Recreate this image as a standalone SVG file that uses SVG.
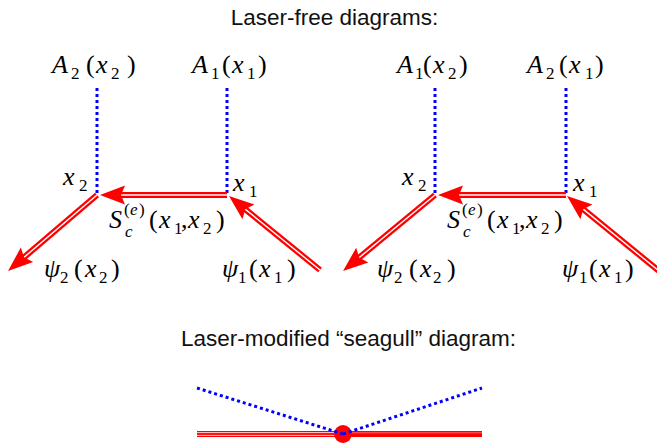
<svg xmlns="http://www.w3.org/2000/svg" width="657" height="447" viewBox="0 0 657 447">
<rect width="657" height="447" fill="#ffffff"/>
<text x="334.5" y="25" font-family="Liberation Sans" font-size="22.5" fill="#111" text-anchor="middle">Laser-free diagrams:</text>
<text x="348.5" y="346" font-family="Liberation Sans" font-size="22.5" fill="#111" text-anchor="middle">Laser-modified “seagull” diagram:</text>
<g id="connectors" fill="none">
  <g stroke="#0000ff" stroke-width="3" stroke-dasharray="3 3">
    <line x1="97" y1="88" x2="97" y2="194"/>
    <line x1="227" y1="88" x2="227" y2="194"/>
    <line x1="435" y1="88" x2="435" y2="194"/>
    <line x1="566" y1="88" x2="566" y2="194"/>
  </g>
  <g stroke="#ff0000" stroke-width="6">
    <path d="M227,195 L116,195"/>
    <path d="M97,195 L20.2,260.6"/>
    <path d="M320,270 L241.4,206.1"/>
    <path d="M566,195 L454,195"/>
    <path d="M435,195 L355.3,260.8"/>
    <path d="M659,271 L579.5,206.1"/>
  </g>
  <g stroke="#ffffff" stroke-width="1.4">
    <path d="M227,195 L116,195"/>
    <path d="M97,195 L20.2,260.6"/>
    <path d="M320,270 L241.4,206.1"/>
    <path d="M566,195 L454,195"/>
    <path d="M435,195 L355.3,260.8"/>
    <path d="M659,271 L579.5,206.1"/>
  </g>
  <g fill="#ff0000" stroke="none">
    <polygon points="100,195 125,204.5 121,195 125,185.5"/>
    <polygon points="8,271 33.18,261.99 23.97,257.36 20.84,247.54"/>
    <polygon points="229,196 242.42,219.14 245.3,209.24 254.4,204.39"/>
    <polygon points="438,195 463,204.5 459,195 463,185.5"/>
    <polygon points="343,271 368.32,262.39 359.18,257.61 356.21,247.75"/>
    <polygon points="567,196 580.37,219.16 583.27,209.27 592.38,204.44"/>
  </g>
  <line x1="197" y1="434" x2="482" y2="434" stroke="#ff0000" stroke-width="6"/>
  <line x1="197" y1="432.6" x2="343" y2="432.6" stroke="#ffffff" stroke-width="0.9" opacity="0.9"/>
  <line x1="197" y1="435.4" x2="343" y2="435.4" stroke="#ffffff" stroke-width="0.9" opacity="0.9"/>
  <line x1="343" y1="432.8" x2="482" y2="432.8" stroke="#ffffff" stroke-width="0.8" opacity="0.5"/>
</g>
<g id="seagull-vertex">
  <circle cx="343" cy="434" r="9" fill="#ff0000"/>
</g>
<g id="seagull-photons" fill="none" stroke="#0000ff" stroke-width="3" stroke-dasharray="3 3">
  <line x1="197" y1="388" x2="343" y2="434"/>
  <line x1="343" y1="434" x2="482" y2="388"/>
</g>
<g id="L-A2">
  <text x="52" y="73" font-family="serif" font-size="26" font-style="italic">A</text>
  <text x="71" y="79" font-family="serif" font-size="17">2</text>
  <text x="86" y="73" font-family="serif" font-size="26">(</text>
  <text x="96" y="73" font-family="serif" font-size="26" font-style="italic">x</text>
  <text x="111" y="79" font-family="serif" font-size="17">2</text>
  <text x="127" y="73" font-family="serif" font-size="26">)</text>
</g>
<g id="L-A1">
  <text x="192" y="73" font-family="serif" font-size="26" font-style="italic">A</text>
  <text x="211" y="79" font-family="serif" font-size="17">1</text>
  <text x="222" y="73" font-family="serif" font-size="26">(</text>
  <text x="232" y="73" font-family="serif" font-size="26" font-style="italic">x</text>
  <text x="247" y="79" font-family="serif" font-size="17">1</text>
  <text x="258" y="73" font-family="serif" font-size="26">)</text>
</g>
<g id="L-x2">
  <text x="63" y="185" font-family="serif" font-size="26" font-style="italic">x</text>
  <text x="79" y="191" font-family="serif" font-size="17">2</text>
</g>
<g id="L-x1">
  <text x="233" y="191" font-family="serif" font-size="26" font-style="italic">x</text>
  <text x="249" y="197" font-family="serif" font-size="17">1</text>
</g>
<g id="L-S">
  <text x="109" y="228" font-family="serif" font-size="26" font-style="italic">S</text>
  <text x="124" y="215" font-family="serif" font-size="17">(</text>
  <text x="130" y="215" font-family="serif" font-size="17" font-style="italic">e</text>
  <text x="139" y="215" font-family="serif" font-size="17">)</text>
  <text x="125" y="237" font-family="serif" font-size="17" font-style="italic">c</text>
  <text x="149" y="228" font-family="serif" font-size="26">(</text>
  <text x="159" y="228" font-family="serif" font-size="26" font-style="italic">x</text>
  <text x="174" y="234" font-family="serif" font-size="17">1</text>
  <text x="181" y="228" font-family="serif" font-size="26">,</text>
  <text x="188" y="228" font-family="serif" font-size="26" font-style="italic">x</text>
  <text x="203" y="234" font-family="serif" font-size="17">2</text>
  <text x="216" y="228" font-family="serif" font-size="26">)</text>
</g>
<g id="L-psi2">
  <text x="44" y="277" font-family="serif" font-size="26" font-style="italic">ψ</text>
  <text x="60" y="283" font-family="serif" font-size="17">2</text>
  <text x="74" y="277" font-family="serif" font-size="26">(</text>
  <text x="85" y="277" font-family="serif" font-size="26" font-style="italic">x</text>
  <text x="99" y="283" font-family="serif" font-size="17">2</text>
  <text x="111" y="277" font-family="serif" font-size="26">)</text>
</g>
<g id="L-psi1">
  <text x="222" y="277" font-family="serif" font-size="26" font-style="italic">ψ</text>
  <text x="238" y="283" font-family="serif" font-size="17">1</text>
  <text x="249" y="277" font-family="serif" font-size="26">(</text>
  <text x="259" y="277" font-family="serif" font-size="26" font-style="italic">x</text>
  <text x="274" y="283" font-family="serif" font-size="17">1</text>
  <text x="287" y="277" font-family="serif" font-size="26">)</text>
</g>
<g id="R-A1">
  <text x="397" y="73" font-family="serif" font-size="26" font-style="italic">A</text>
  <text x="415" y="79" font-family="serif" font-size="17">1</text>
  <text x="423" y="73" font-family="serif" font-size="26">(</text>
  <text x="433" y="73" font-family="serif" font-size="26" font-style="italic">x</text>
  <text x="448" y="79" font-family="serif" font-size="17">2</text>
  <text x="459" y="73" font-family="serif" font-size="26">)</text>
</g>
<g id="R-A2">
  <text x="527" y="73" font-family="serif" font-size="26" font-style="italic">A</text>
  <text x="546" y="79" font-family="serif" font-size="17">2</text>
  <text x="559" y="73" font-family="serif" font-size="26">(</text>
  <text x="569" y="73" font-family="serif" font-size="26" font-style="italic">x</text>
  <text x="585" y="79" font-family="serif" font-size="17">1</text>
  <text x="595" y="73" font-family="serif" font-size="26">)</text>
</g>
<g id="R-x2">
  <text x="402" y="185" font-family="serif" font-size="26" font-style="italic">x</text>
  <text x="418" y="191" font-family="serif" font-size="17">2</text>
</g>
<g id="R-x1">
  <text x="573" y="191" font-family="serif" font-size="26" font-style="italic">x</text>
  <text x="589" y="197" font-family="serif" font-size="17">1</text>
</g>
<g id="R-S">
  <text x="447" y="228" font-family="serif" font-size="26" font-style="italic">S</text>
  <text x="462" y="215" font-family="serif" font-size="17">(</text>
  <text x="468" y="215" font-family="serif" font-size="17" font-style="italic">e</text>
  <text x="477" y="215" font-family="serif" font-size="17">)</text>
  <text x="463" y="237" font-family="serif" font-size="17" font-style="italic">c</text>
  <text x="487" y="228" font-family="serif" font-size="26">(</text>
  <text x="497" y="228" font-family="serif" font-size="26" font-style="italic">x</text>
  <text x="512" y="234" font-family="serif" font-size="17">1</text>
  <text x="519" y="228" font-family="serif" font-size="26">,</text>
  <text x="526" y="228" font-family="serif" font-size="26" font-style="italic">x</text>
  <text x="541" y="234" font-family="serif" font-size="17">2</text>
  <text x="554" y="228" font-family="serif" font-size="26">)</text>
</g>
<g id="R-psi2">
  <text x="377" y="277" font-family="serif" font-size="26" font-style="italic">ψ</text>
  <text x="394" y="283" font-family="serif" font-size="17">2</text>
  <text x="409" y="277" font-family="serif" font-size="26">(</text>
  <text x="420" y="277" font-family="serif" font-size="26" font-style="italic">x</text>
  <text x="433" y="283" font-family="serif" font-size="17">2</text>
  <text x="447" y="277" font-family="serif" font-size="26">)</text>
</g>
<g id="R-psi1">
  <text x="562" y="277" font-family="serif" font-size="26" font-style="italic">ψ</text>
  <text x="579" y="283" font-family="serif" font-size="17">1</text>
  <text x="589" y="277" font-family="serif" font-size="26">(</text>
  <text x="599" y="277" font-family="serif" font-size="26" font-style="italic">x</text>
  <text x="614" y="283" font-family="serif" font-size="17">1</text>
  <text x="625" y="277" font-family="serif" font-size="26">)</text>
</g>
</svg>
